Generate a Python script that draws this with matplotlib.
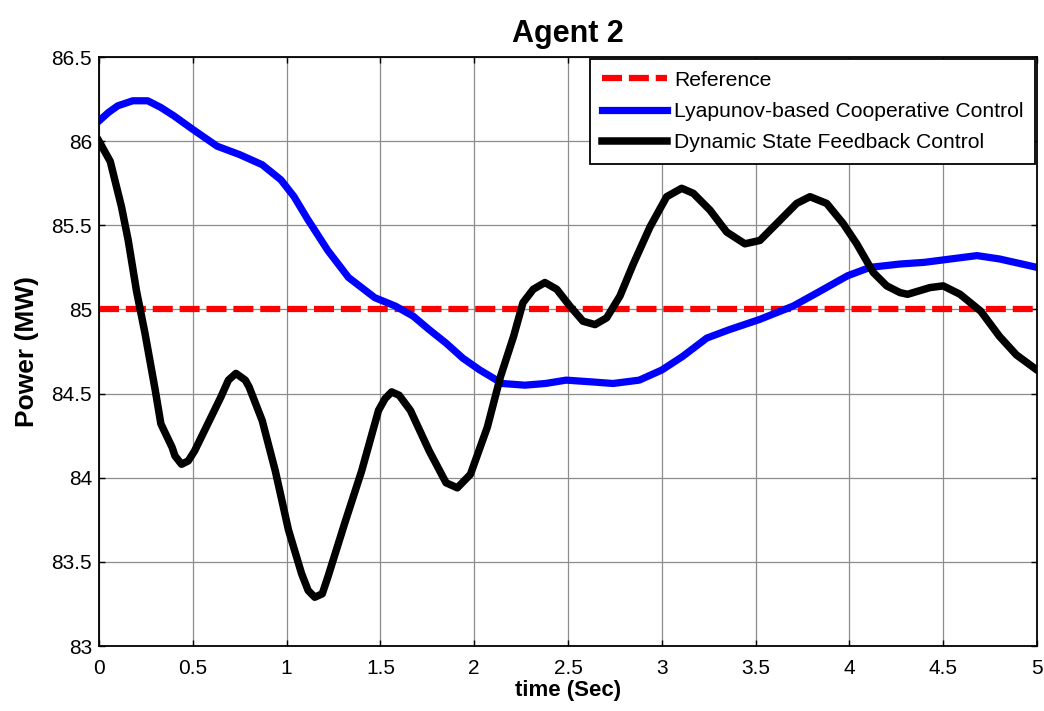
import matplotlib
matplotlib.use('Agg')
import matplotlib.pyplot as plt

plt.rcParams['font.family'] = ['Liberation Sans', 'DejaVu Sans']

# ---- data ----
ref_t = [0.0, 5.0]
ref_p = [85.0, 85.0]

lyap_t = [0.00, 0.05, 0.10, 0.18, 0.26, 0.33, 0.40, 0.50, 0.63, 0.75,
          0.87, 0.97, 1.04, 1.11, 1.22, 1.33, 1.47, 1.58, 1.675, 1.76,
          1.85, 1.94, 2.03, 2.15, 2.27, 2.38, 2.49, 2.62, 2.74, 2.88,
          2.94, 3.00, 3.11, 3.24, 3.36, 3.52, 3.70, 3.83, 3.99, 4.11,
          4.27, 4.40, 4.54, 4.68, 4.80, 4.92, 5.00]
lyap_p = [86.12, 86.17, 86.21, 86.24, 86.24, 86.20, 86.15, 86.07, 85.97, 85.92,
          85.86, 85.77, 85.67, 85.54, 85.35, 85.19, 85.07, 85.02, 84.96, 84.88,
          84.80, 84.71, 84.64, 84.56, 84.55, 84.56, 84.58, 84.57, 84.56, 84.58,
          84.61, 84.64, 84.72, 84.83, 84.88, 84.94, 85.02, 85.10, 85.20, 85.25,
          85.27, 85.28, 85.30, 85.32, 85.30, 85.27, 85.25]

dsf_t = [0.00, 0.06, 0.12, 0.156, 0.20, 0.245, 0.30, 0.33, 0.39, 0.405,
         0.44, 0.476, 0.51, 0.58, 0.65, 0.69, 0.73, 0.78, 0.80, 0.87,
         0.94, 1.01, 1.08, 1.115, 1.15, 1.19, 1.22, 1.31, 1.40, 1.49,
         1.525, 1.56, 1.60, 1.66, 1.76, 1.85, 1.91, 1.98, 2.07, 2.14,
         2.21, 2.26, 2.315, 2.377, 2.44, 2.51, 2.58, 2.644, 2.706, 2.777,
         2.848, 2.937, 3.026, 3.106, 3.168, 3.257, 3.346, 3.443, 3.523, 3.63,
         3.719, 3.79, 3.879, 3.967, 4.039, 4.127, 4.199, 4.27, 4.31, 4.43,
         4.50, 4.59, 4.70, 4.80, 4.89, 5.00]
dsf_p = [86.00, 85.88, 85.61, 85.41, 85.11, 84.86, 84.52, 84.32, 84.18, 84.13,
         84.08, 84.10, 84.16, 84.32, 84.48, 84.58, 84.62, 84.58, 84.54, 84.34,
         84.04, 83.69, 83.43, 83.33, 83.29, 83.31, 83.41, 83.73, 84.04, 84.40,
         84.47, 84.51, 84.49, 84.40, 84.16, 83.97, 83.94, 84.02, 84.30, 84.60,
         84.84, 85.04, 85.12, 85.16, 85.12, 85.02, 84.93, 84.91, 84.95, 85.08,
         85.27, 85.49, 85.67, 85.72, 85.69, 85.59, 85.46, 85.39, 85.41, 85.53,
         85.63, 85.67, 85.63, 85.51, 85.39, 85.22, 85.14, 85.10, 85.09, 85.13,
         85.14, 85.09, 84.99, 84.84, 84.73, 84.64]

x_ticks = [0, 0.5, 1, 1.5, 2, 2.5, 3, 3.5, 4, 4.5, 5]
x_labels = ['0', '0.5', '1', '1.5', '2', '2.5', '3', '3.5', '4', '4.5', '5']
y_ticks = [83, 83.5, 84, 84.5, 85, 85.5, 86, 86.5]
y_labels = ['83', '83.5', '84', '84.5', '85', '85.5', '86', '86.5']

fig = plt.figure(figsize=(10.44, 7.11), dpi=100)
ax = fig.add_axes([0.0948, 0.0914, 0.8985, 0.8284])

ax.plot(ref_t, ref_p, color='red', lw=4.5, ls=(0, (3.2, 1.1)), label='Reference')
ax.plot(lyap_t, lyap_p, color='blue', lw=5.2, solid_joinstyle='round',
        label='Lyapunov-based Cooperative Control')
ax.plot(dsf_t, dsf_p, color='black', lw=5.4, solid_joinstyle='round',
        label='Dynamic State Feedback Control')

ax.set_xlim(0, 5)
ax.set_ylim(83, 86.5)
ax.set_xticks(x_ticks)
ax.set_xticklabels(x_labels)
ax.set_yticks(y_ticks)
ax.set_yticklabels(y_labels)
ax.tick_params(direction='in', length=4, width=1, labelsize=15,
               top=True, right=True)
ax.tick_params(axis='x', pad=9)
ax.tick_params(axis='y', pad=5)
ax.grid(True, color='0.55', lw=0.9)
ax.set_axisbelow(True)
for s in ax.spines.values():
    s.set_linewidth(1.3)

ax.set_title('Agent 2', fontsize=22, fontweight='bold', pad=11)
ax.set_xlabel('time (Sec)', fontsize=16, fontweight='bold', labelpad=2)
ax.set_ylabel('Power (MW)', fontsize=19, fontweight='bold', labelpad=9)

leg = ax.legend(loc='upper right', bbox_to_anchor=(1.0, 1.0), fontsize=15.2,
                fancybox=False, framealpha=1, edgecolor='black',
                handlelength=3.1, handletextpad=0.3, labelspacing=0.58,
                borderpad=0.55, borderaxespad=0.1)
leg.get_frame().set_linewidth(1.3)

fig.savefig('out.png', dpi=100)
